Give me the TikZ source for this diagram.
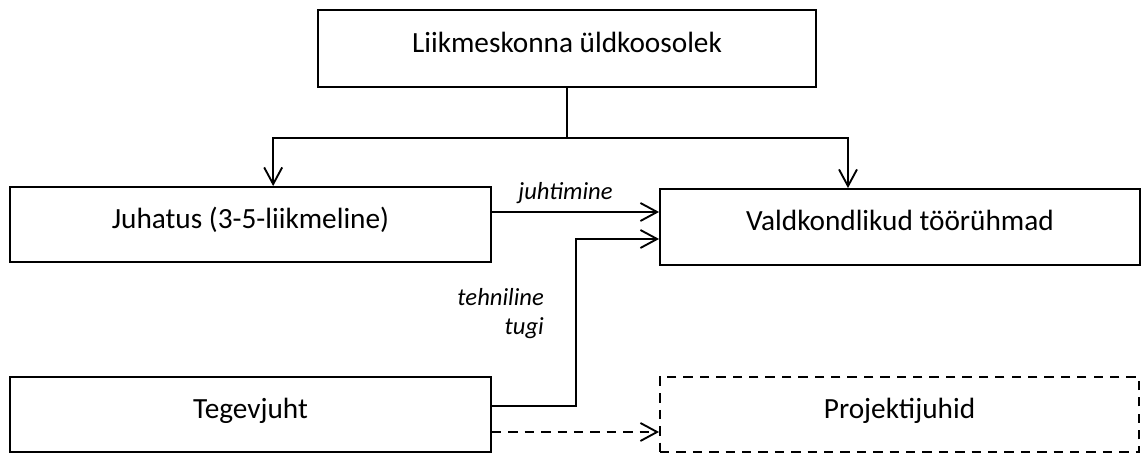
\documentclass[tikz,border=0pt]{standalone}
\usepackage{fontspec}
\setmainfont{Carlito}
\usetikzlibrary{arrows.meta,calc}

\begin{document}
\begin{tikzpicture}[
    font=\fontsize{12.5}{15}\selectfont,
    box/.style={draw=black, line width=0.8pt, minimum width=7.2cm, minimum height=1.13cm, inner sep=0pt,
        text height=0.75em, text depth=0.45em},
    dashbox/.style={box, dash pattern=on 4pt off 3pt},
    conn/.style={draw=black, line width=0.8pt},
    tip/.style={-{Straight Barb[length=0.25cm, width=0.27cm, line width=0.8pt]}},
    lbl/.style={font=\fontsize{10.5}{12.5}\selectfont\itshape, inner sep=1pt}
]
\useasboundingbox (0,0) rectangle (17.16,-6.795);

% Boxes (one px of the layout = 0.015 cm)
\node[box, minimum width=7.47cm, minimum height=1.155cm] (yldkoos) at (8.505,-0.73) {Liikmeskonna üldkoosolek};
\node[box, minimum width=7.215cm] (juhatus) at (3.7575,-3.37) {Juhatus (3-5-liikmeline)};
\node[box, minimum height=1.14cm] (tooryhm) at (13.5,-3.405) {Valdkondlikud töörühmad};
\node[box, minimum width=7.215cm] (tegevjuht) at (3.7575,-6.22) {Tegevjuht};
\node[dashbox, minimum width=7.185cm] (projjuht) at (13.4925,-6.22) {Projektijuhid};

% From the general meeting down to the board and the working groups
\coordinate (fork) at ($(yldkoos.south)+(0,-0.75)$);
\draw[conn] (yldkoos.south) -- (fork);
\draw[conn, tip] (fork) -| ([xshift=0.34cm]juhatus.north);
\draw[conn, tip] (fork) -| ([xshift=-0.78cm]tooryhm.north);

% Management and technical support
\draw[conn, tip] ([yshift=0.19cm]juhatus.east) -- ([yshift=0.19cm]juhatus.east -| tooryhm.west)
    node[lbl, pos=0.44, above=2pt] (juhtimine) {juhtimine};
\draw[conn, tip] ([yshift=0.13cm]tegevjuht.east) -- ++(1.26,0) |- ([yshift=-0.18cm]tooryhm.west);
\node[lbl, anchor=east, align=right] (tugi) at (8.2,-4.7) {tehniline\\tugi};

% Project leads
\draw[conn, tip, dash pattern=on 4pt off 3pt] ([yshift=-0.26cm]tegevjuht.east) -- ([yshift=-0.26cm]tegevjuht.east -| projjuht.west);
\end{tikzpicture}
\end{document}
